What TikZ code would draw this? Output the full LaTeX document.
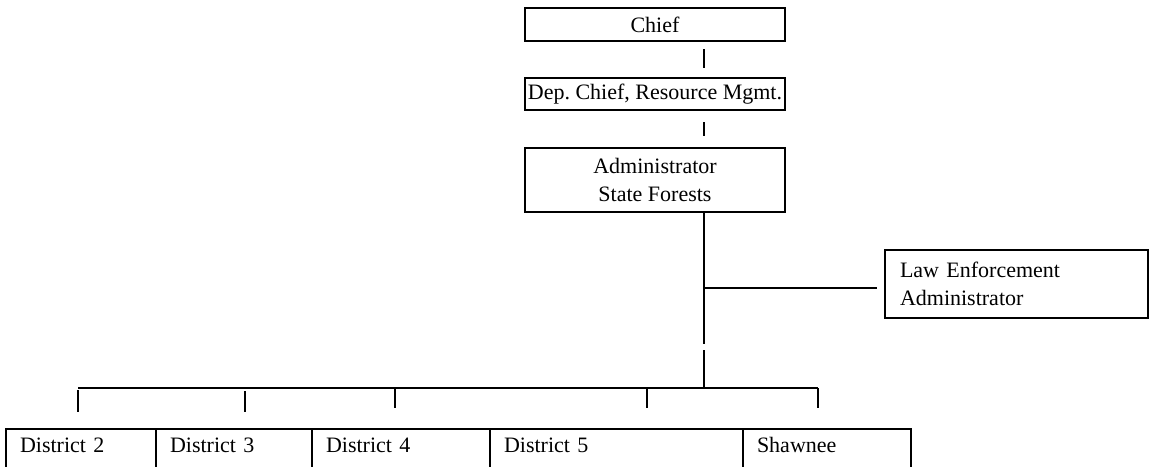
\documentclass[tikz,border=0pt]{standalone}
\usepackage{fontspec}
\setmainfont{Liberation Serif}
\frenchspacing
\begin{document}
\begin{tikzpicture}[x=1pt,y=-1pt,
  box/.style={draw, line width=2pt, inner sep=0pt, font=\fontsize{22}{28}\selectfont},
  cbox/.style={box, align=center},
  dbox/.style={box, anchor=north west, align=left, inner xsep=14pt, inner ysep=3pt, text height=20.5pt, text depth=30pt},
  conn/.style={line width=1.6pt}]
\useasboundingbox (0,0) rectangle (1156,466);
\clip (0,0) rectangle (1156,466);
% top boxes
\node[cbox, minimum width=260pt, minimum height=33pt] (chief) at (655,24.5) {Chief};
\node[cbox, minimum width=260pt, minimum height=32pt] (dep) at (655,94) {Dep. Chief, Resource Mgmt.};
\node[cbox, minimum width=260pt, minimum height=64pt] (adm) at (655,180) {Administrator\\State Forests};
\node[box, align=left, inner xsep=15pt, text width=233pt, minimum height=68pt] (law) at (1016.5,284) {Law Enforcement\\Administrator};
% district boxes
\node[dbox, text width=122pt] (d2) at (5,428) {District 2};
\node[dbox, text width=128pt] (d3) at (155,428) {District 3};
\node[dbox, text width=150pt] (d4) at (311,428) {District 4};
\node[dbox, text width=225pt] (d5) at (489,428) {District 5};
\node[dbox, text width=140pt] (sh) at (742,428) {Shawnee};
% connector points
\coordinate (c1) at (704,49);
\coordinate (c2) at (704,68);
\coordinate (c3) at (704,122);
\coordinate (c4) at (704,136);
\coordinate (v1) at (704,344);
\coordinate (v2) at (704,350);
\coordinate (hub) at (704,388);
\coordinate (br) at (704,288);
\coordinate (lawend) at (877,288);
\coordinate (bl) at (78,388);
\coordinate (brr) at (818,388);
\coordinate (t2a) at (78,390);   \coordinate (t2b) at (78,412);
\coordinate (t3a) at (245,391);  \coordinate (t3b) at (245,412);
\coordinate (t4a) at (395,388);  \coordinate (t4b) at (395,408);
\coordinate (t5a) at (647,388);  \coordinate (t5b) at (647,408);
\coordinate (t6a) at (818,388);  \coordinate (t6b) at (818,408);
% connectors
\draw[conn] (c1) -- (c2);
\draw[conn] (c3) -- (c4);
\draw[conn] (adm.south -| c1) -- (v1);
\draw[conn] (v2) -- (hub);
\draw[conn] (br) -- (lawend);
\draw[conn] (bl) -- (brr);
\draw[conn] (t2a) -- (t2b);
\draw[conn] (t3a) -- (t3b);
\draw[conn] (t4a) -- (t4b);
\draw[conn] (t5a) -- (t5b);
\draw[conn] (t6a) -- (t6b);
\end{tikzpicture}
\end{document}
